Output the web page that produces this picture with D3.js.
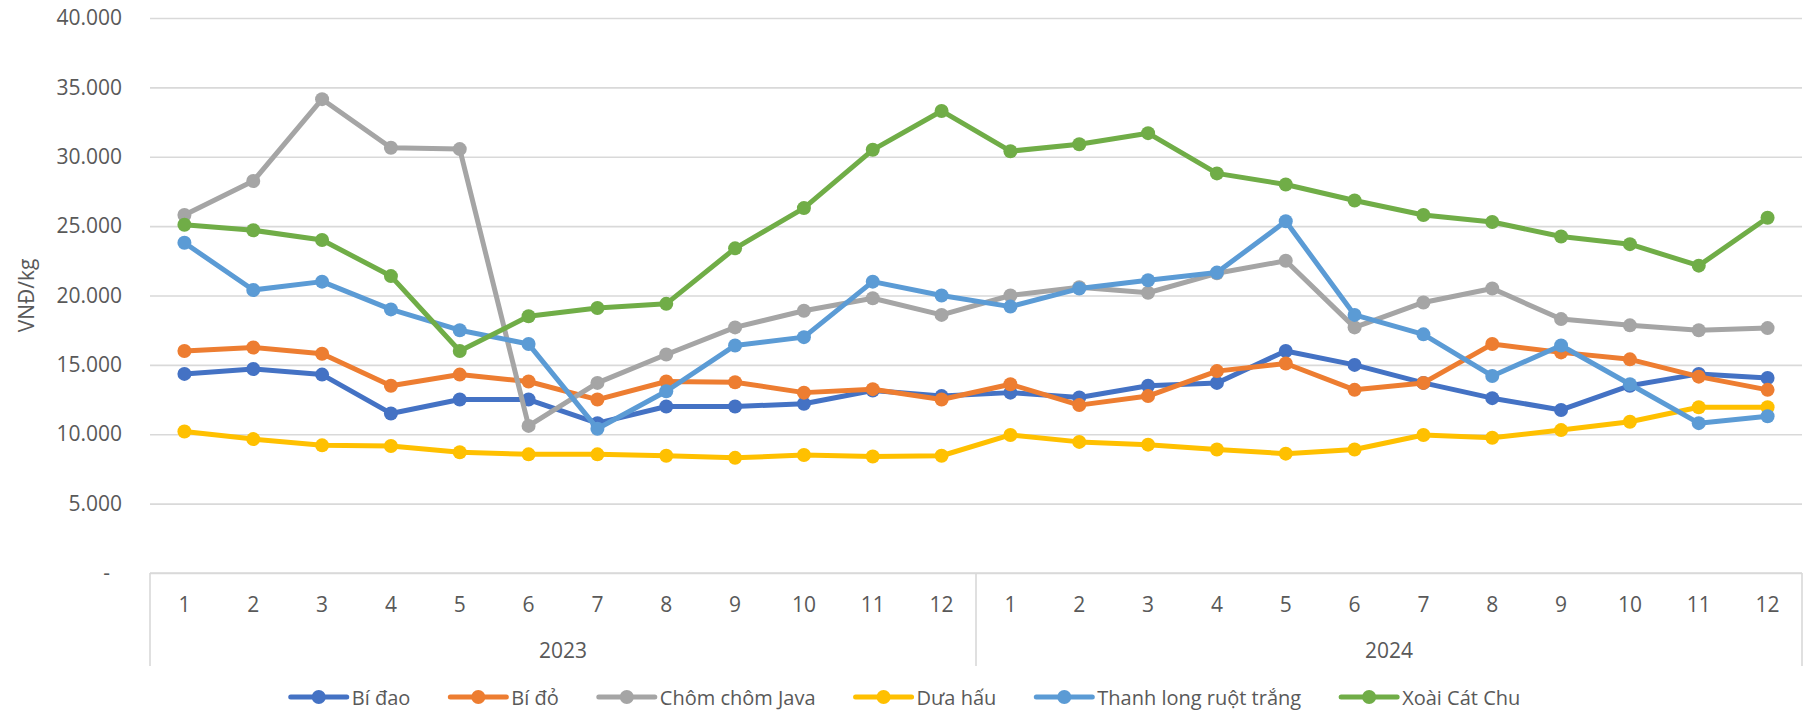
<!DOCTYPE html>
<html>
<head>
<meta charset="utf-8">
<script src="https://cdn.jsdelivr.net/npm/d3@7"></script>
<style>
    html, body { margin: 0; padding: 0; background: #fff; }
    #chart { width: 1811px; height: 712px; }
    text { font-family: "Open Sans", "Noto Sans", sans-serif; fill: #595959; }
</style>
</head>
<body>
<div id="chart"></div>
<script>
// categories
const years = ['2023', '2024'];
const months = [1, 2, 3, 4, 5, 6, 7, 8, 9, 10, 11, 12];
const yTicks = [0, 5000, 10000, 15000, 20000, 25000, 30000, 35000, 40000];

// series values (VNĐ/kg), 2023-1 .. 2024-12
const biDao = [14350, 14700, 14300, 11500, 12500, 12500, 10800, 12000, 12000, 12200, 13150, 12750,
    13000, 12650, 13500, 13700, 16000, 15000, 13700, 12600, 11750, 13500, 14350, 14050];
const biDo = [16000, 16250, 15800, 13500, 14300, 13800, 12500, 13800, 13750, 13000, 13250, 12500,
    13600, 12100, 12750, 14550, 15100, 13200, 13700, 16500, 15900, 15400, 14150, 13200];
const chomChomJava = [25800, 28250, 34150, 30650, 30550, 10600, 13700, 15750, 17700, 18900, 19800, 18600,
    20000, 20600, 20200, 21600, 22500, 17700, 19500, 20500, 18300, 17850, 17500, 17650];
const duaHau = [10200, 9650, 9200, 9150, 8700, 8550, 8550, 8450, 8300, 8500, 8400, 8450,
    9950, 9450, 9250, 8900, 8600, 8900, 9950, 9750, 10300, 10900, 11950, 11950];
const thanhLong = [23800, 20400, 21000, 19000, 17500, 16500, 10400, 13100, 16400, 17000, 21000, 20000,
    19200, 20500, 21100, 21650, 25350, 18600, 17200, 14200, 16400, 13600, 10800, 11300];
const xoaiCatChu = [25100, 24700, 24000, 21400, 16000, 18500, 19100, 19400, 23400, 26300, 30500, 33300,
    30400, 30900, 31700, 28800, 28000, 26850, 25800, 25300, 24250, 23700, 22150, 25600];

const seriesNames = ['Bí đao', 'Bí đỏ', 'Chôm chôm Java', 'Dưa hấu', 'Thanh long ruột trắng', 'Xoài Cát Chu'];
const seriesColors = ['#4472C4', '#ED7D31', '#A5A5A5', '#FFC000', '#5B9BD5', '#70AD47'];
const seriesValues = [biDao, biDo, chomChomJava, duaHau, thanhLong, xoaiCatChu];

const W = 1811, H = 712;
var margin = { top: 18, right: 9, bottom: 139, left: 150 },
    width = W - margin.left - margin.right,
    height = H - margin.top - margin.bottom;

// category keys like 2023-1
const keys = [];
years.forEach(function (yr) {
    months.forEach(function (m) { keys.push(yr + '-' + m); });
});

var x = d3.scaleBand().domain(keys).range([0, width]).padding(0);
var y = d3.scaleLinear().domain([0, 40000]).range([height, 0]);

// vietnamese number format: 40.000
const vn = d3.formatLocale({ decimal: ',', thousands: '.', grouping: [3], currency: ['', ''] });
const fmt = vn.format(',');

var svg = d3.select('#chart')
    .append('svg')
    .attr('width', W)
    .attr('height', H);

var g = svg.append('g')
    .attr('transform', 'translate(' + margin.left + ',' + margin.top + ')');

// gridlines + y labels
var yAxis = g.append('g')
    .call(d3.axisLeft(y).tickValues(yTicks).tickSize(-width).tickPadding(28)
        .tickFormat(function (d) { return d === 0 ? '-' : fmt(d); }));
yAxis.select('.domain').remove();
yAxis.selectAll('.tick line')
    .attr('stroke', '#d9d9d9')
    .attr('stroke-width', 1.6);
yAxis.selectAll('.tick text')
    .style('font-size', '21px')
    .attr('fill', '#595959')
    .attr('dx', function (d) { return d === 0 ? -12 : 0; });

// y axis title
svg.append('text')
    .attr('transform', 'translate(26,' + (margin.top + height / 2) + ') rotate(-90)')
    .attr('text-anchor', 'middle')
    .attr('dominant-baseline', 'central')
    .style('font-size', '21px')
    .text('VNĐ/kg');

// x axis: month labels
var xAxis = g.append('g')
    .attr('transform', 'translate(0,' + height + ')');
xAxis.append('line')
    .attr('x1', 0).attr('x2', width)
    .attr('stroke', '#d9d9d9').attr('stroke-width', 1.6);
xAxis.selectAll('.month')
    .data(keys)
    .enter().append('text')
    .attr('class', 'month')
    .attr('x', function (d) { return x(d) + x.bandwidth() / 2; })
    .attr('y', 31)
    .attr('text-anchor', 'middle')
    .attr('dominant-baseline', 'central')
    .style('font-size', '21px')
    .text(function (d) { return d.split('-')[1]; });

// year group dividers and labels
const groupW = x.bandwidth() * months.length;
const dividers = [0].concat(years.map(function (yr, i) { return (i + 1) * groupW; }));
xAxis.selectAll('.divider')
    .data(dividers)
    .enter().append('line')
    .attr('x1', function (d) { return d; })
    .attr('x2', function (d) { return d; })
    .attr('y1', 0).attr('y2', 93)
    .attr('stroke', '#d9d9d9').attr('stroke-width', 1.6);
xAxis.selectAll('.year')
    .data(years)
    .enter().append('text')
    .attr('x', function (d, i) { return (i + 0.5) * groupW; })
    .attr('y', 77)
    .attr('text-anchor', 'middle')
    .attr('dominant-baseline', 'central')
    .style('font-size', '21px')
    .text(function (d) { return d; });

// lines + markers
var line = d3.line()
    .x(function (d, i) { return x(keys[i]) + x.bandwidth() / 2; })
    .y(function (d) { return y(d); });

seriesValues.forEach(function (vals, s) {
    var sg = g.append('g');
    sg.append('path')
        .datum(vals)
        .attr('fill', 'none')
        .attr('stroke', seriesColors[s])
        .attr('stroke-width', 5)
        .attr('stroke-linejoin', 'round')
        .attr('d', line);
    sg.selectAll('circle')
        .data(vals)
        .enter().append('circle')
        .attr('r', 7)
        .attr('cx', function (d, i) { return x(keys[i]) + x.bandwidth() / 2; })
        .attr('cy', function (d) { return y(d); })
        .attr('fill', seriesColors[s]);
});

// legend, centered under the chart
var legend = svg.append('g');
const legY = 697;
var items = legend.selectAll('.item')
    .data(seriesNames)
    .enter().append('g')
    .attr('class', 'item');
items.append('line')
    .attr('x1', 0).attr('x2', 56)
    .attr('stroke', function (d, i) { return seriesColors[i]; })
    .attr('stroke-width', 5)
    .attr('stroke-linecap', 'round');
items.append('circle')
    .attr('cx', 28).attr('r', 7)
    .attr('fill', function (d, i) { return seriesColors[i]; });
items.append('text')
    .attr('x', 61)
    .attr('dominant-baseline', 'central')
    .style('font-size', '20px')
    .text(function (d) { return d; });

var offsets = [], pos = 0;
items.each(function () {
    offsets.push(pos);
    pos += 61 + d3.select(this).select('text').node().getComputedTextLength() + 40;
});
const totalW = pos - 40;
const startX = W / 2 - totalW / 2;
items.attr('transform', function (d, i) { return 'translate(' + (startX + offsets[i]) + ',' + legY + ')'; });
</script>
</body>
</html>
